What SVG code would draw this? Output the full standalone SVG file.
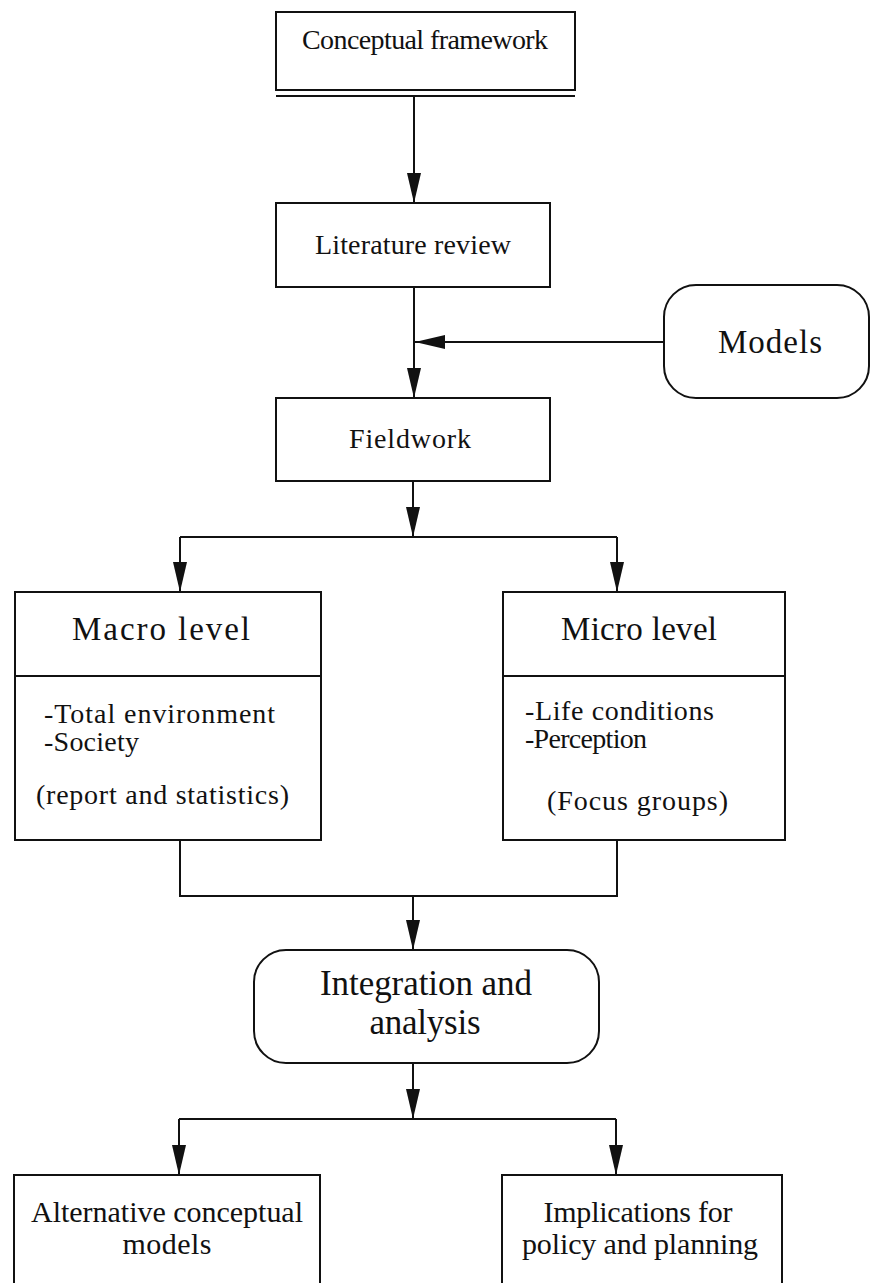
<svg xmlns="http://www.w3.org/2000/svg" width="870" height="1283" viewBox="0 0 870 1283">
<style>
.box{fill:#fff;stroke:#111;stroke-width:2}
.ln{fill:none;stroke:#111;stroke-width:2}
.ar{fill:none;stroke:#111;stroke-width:2;marker-end:url(#ah)}
text{font-family:"Liberation Serif","Times New Roman",serif;fill:#111;font-size:28px}
.c{text-anchor:middle}
.b{font-size:28px}
.t{font-size:33px}
.i{font-size:35px}
.f{font-size:30px}
</style>
<defs>
<marker id="ah" markerUnits="userSpaceOnUse" markerWidth="31" markerHeight="14" refX="30" refY="7" orient="auto">
<path d="M0,0 L30,7 L0,14 Z" fill="#111"/>
</marker>
</defs>
<rect width="870" height="1283" fill="#fff"/>
<g id="connectors">
<path class="ar" d="M414,96 V203"/>
<path class="ar" d="M414,287 V398"/>
<path class="ar" d="M664,342 H415"/>
<path class="ar" d="M413,481 V537"/>
<path class="ln" d="M180,537 H617"/>
<path class="ar" d="M180,537 V592"/>
<path class="ar" d="M617,537 V592"/>
<path class="ln" d="M180,840 V896 H617 V840"/>
<path class="ar" d="M413,896 V950"/>
<path class="ar" d="M413,1063 V1119"/>
<path class="ln" d="M179,1119 H616"/>
<path class="ar" d="M179,1119 V1175"/>
<path class="ar" d="M616,1119 V1175"/>
</g>
<g id="conceptual">
<rect class="box" x="276" y="12" width="299" height="78"/>
<path class="ln" d="M276,96 H575"/>
<text class="c" x="425" y="49" font-size="27" textLength="246" lengthAdjust="spacing">Conceptual framework</text>
</g>
<g id="literature">
<rect class="box" x="276" y="203" width="274" height="84"/>
<text class="c" x="413" y="254" textLength="196" lengthAdjust="spacing">Literature review</text>
</g>
<g id="models">
<rect class="box" x="664" y="285" width="205" height="113" rx="32"/>
<text class="c t" x="770" y="353" textLength="104" lengthAdjust="spacing">Models</text>
</g>
<g id="fieldwork">
<rect class="box" x="276" y="398" width="274" height="83"/>
<text class="c" x="410" y="448" textLength="122" lengthAdjust="spacing">Fieldwork</text>
</g>
<g id="macro">
<rect class="box" x="15" y="592" width="306" height="248"/>
<path class="ln" d="M15,676 H321"/>
<text class="c t" x="161" y="640" textLength="178" lengthAdjust="spacing">Macro level</text>
<text class="b" x="44" y="723" textLength="231" lengthAdjust="spacing">-Total environment</text>
<text class="b" x="44" y="751" textLength="95" lengthAdjust="spacing">-Society</text>
<text class="b" x="36" y="804" textLength="253" lengthAdjust="spacing">(report and statistics)</text>
</g>
<g id="micro">
<rect class="box" x="503" y="592" width="282" height="248"/>
<path class="ln" d="M503,676 H785"/>
<text class="c t" x="639" y="640" textLength="156" lengthAdjust="spacing">Micro level</text>
<text class="b" x="525" y="720" textLength="189" lengthAdjust="spacing">-Life conditions</text>
<text class="b" x="525" y="748" textLength="122" lengthAdjust="spacing">-Perception</text>
<text class="b" x="547" y="810" textLength="181" lengthAdjust="spacing">(Focus groups)</text>
</g>
<g id="integration">
<rect class="box" x="254" y="950" width="345" height="113" rx="32"/>
<text class="c i" x="426" y="995" textLength="212" lengthAdjust="spacing">Integration and</text>
<text class="c i" x="425" y="1034" textLength="111" lengthAdjust="spacing">analysis</text>
</g>
<g id="alternative">
<rect class="box" x="14" y="1175" width="306" height="120"/>
<text class="c f" x="167" y="1222" textLength="272" lengthAdjust="spacing">Alternative conceptual</text>
<text class="c f" x="167" y="1254" textLength="89" lengthAdjust="spacing">models</text>
</g>
<g id="implications">
<rect class="box" x="502" y="1175" width="280" height="120"/>
<text class="c f" x="638" y="1222" textLength="189" lengthAdjust="spacing">Implications for</text>
<text class="c f" x="640" y="1254" textLength="236" lengthAdjust="spacing">policy and planning</text>
</g>
</svg>
